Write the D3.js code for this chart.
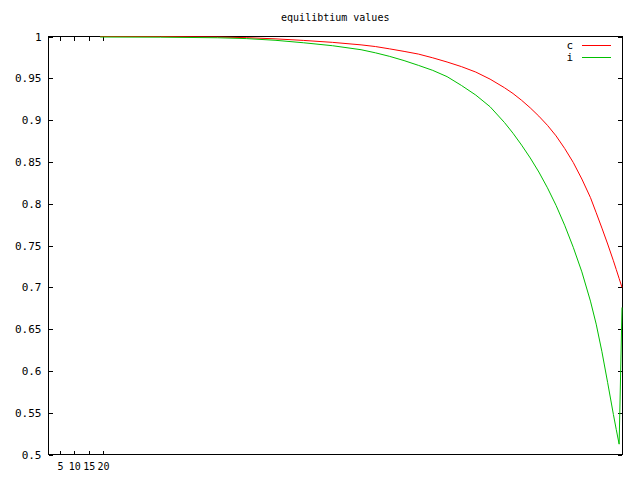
<!DOCTYPE html>
<html><head><meta charset="utf-8">
<script src="https://cdn.jsdelivr.net/npm/d3@7/dist/d3.min.js"></script>
<style>
html,body{margin:0;padding:0;background:#fff;}
text{font-family:"DejaVu Sans Mono",monospace;fill:#000;}
</style></head>
<body>
<script>
const title = "equilibtium values";
const xTicks = [5, 10, 15, 20];
const yTicks = [0.5, 0.55, 0.6, 0.65, 0.7, 0.75, 0.8, 0.85, 0.9, 0.95, 1];
const seriesNames = ["c", "i"];
const seriesColors = ["#ff0000", "#00c000"];
const xs = [19, 40, 60, 70, 80, 90, 100, 110, 115, 120, 125, 130, 135, 140, 145, 150, 155, 160, 163, 166, 169, 172, 175, 178, 181, 184, 187, 190, 192, 194, 196, 198, 199, 200, 201];
const cValues = [1.0, 0.9999, 0.9994, 0.9986, 0.9972, 0.9953, 0.9930, 0.9900, 0.9880, 0.9852, 0.9822, 0.9790, 0.9745, 0.9695, 0.9640, 0.9575, 0.9490, 0.9388, 0.9318, 0.9237, 0.9147, 0.9048, 0.8938, 0.8812, 0.8662, 0.8494, 0.8296, 0.8074, 0.7893, 0.7709, 0.7519, 0.7319, 0.7214, 0.7107, 0.7000];
const iValues = [0.9994, 0.9992, 0.9985, 0.9975, 0.9955, 0.9925, 0.9890, 0.9842, 0.9805, 0.9762, 0.9712, 0.9655, 0.9595, 0.9520, 0.9415, 0.9300, 0.9160, 0.8972, 0.8843, 0.8701, 0.8548, 0.8380, 0.8191, 0.7981, 0.7744, 0.7480, 0.7186, 0.6836, 0.6561, 0.6231, 0.5861, 0.5481, 0.5301, 0.5126, 0.6760];

const W = 640, H = 480;
const L = 48.5, R = 622, T = 36.5, B = 454.7;
const svg = d3.select("body").append("svg").attr("width", W).attr("height", H);

const x = d3.scaleLinear().domain([1, 201]).range([L, R]);
const y = d3.scaleLinear().domain([0.5, 1]).range([B, T]);
const fmt = d => String(+d.toFixed(2));

svg.append("text").attr("x", (L + R) / 2).attr("y", 21).attr("text-anchor", "middle")
  .attr("font-size", 10).text(title);

const axStyle = size => g => {
  g.select(".domain").remove();
  g.selectAll("line").attr("stroke", "#000").attr("shape-rendering", "crispEdges");
  g.selectAll("text").attr("font-family", "DejaVu Sans Mono").attr("font-size", size).attr("fill", "#000");
};

svg.append("g").attr("transform", `translate(${L},0)`)
  .call(d3.axisLeft(y).tickValues(yTicks).tickFormat(fmt).tickSize(-4).tickPadding(7)).call(axStyle(11));
svg.append("g").attr("transform", `translate(${R},0)`)
  .call(d3.axisRight(y).tickValues(yTicks).tickFormat("").tickSize(-4)).call(axStyle(11));
svg.append("g").attr("transform", `translate(0,${B})`)
  .call(d3.axisBottom(x).tickValues(xTicks).tickFormat(d3.format("d")).tickSize(-4).tickPadding(8)).call(axStyle(10));
svg.append("g").attr("transform", `translate(0,${T})`)
  .call(d3.axisTop(x).tickValues(xTicks).tickFormat("").tickSize(-4)).call(axStyle(10));

svg.append("rect").attr("x", L).attr("y", T).attr("width", R - L).attr("height", B - T)
  .attr("fill", "none").attr("stroke", "#000").attr("shape-rendering", "crispEdges");

const line = d3.line().x(d => x(d[0])).y(d => y(d[1]));
const series = [cValues, iValues];
series.forEach((vals, k) => {
  svg.append("path").datum(xs.map((v, j) => [v, vals[j]]))
    .attr("d", line).attr("fill", "none").attr("stroke", seriesColors[k]).attr("stroke-width", 1);
});

seriesNames.forEach((n, k) => {
  const yy = 45 + k * 12;
  svg.append("text").attr("x", 573).attr("y", yy + 4).attr("text-anchor", "end")
    .attr("font-size", 11).text(n);
  svg.append("line").attr("x1", 582).attr("x2", 611).attr("y1", yy).attr("y2", yy)
    .attr("stroke", seriesColors[k]).attr("shape-rendering", "crispEdges");
});
</script>
</body></html>
